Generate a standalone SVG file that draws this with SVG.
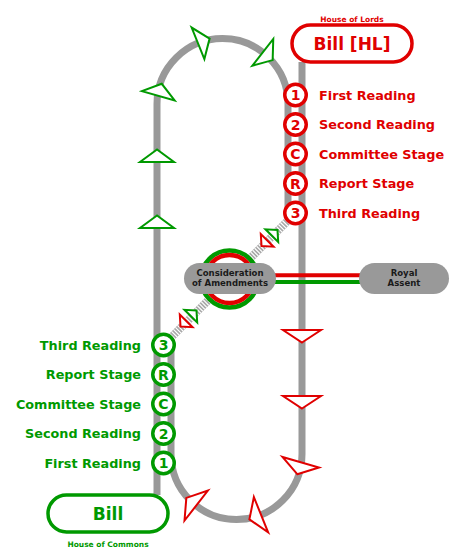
<svg xmlns="http://www.w3.org/2000/svg" width="460" height="558" viewBox="0 0 460 558">
<defs>
<style>
.track{fill:none;stroke:#999;stroke-width:7}
.ladder{stroke:#a8a8a8;stroke-width:8}
.ladder-gap{stroke:#fff;stroke-width:8;stroke-dasharray:1.2 1.6}
.aG{fill:#fff;stroke:#009900;stroke-width:2}
.aR{fill:#fff;stroke:#e00000;stroke-width:2}
.stR circle{fill:#fff;stroke:#e00000;stroke-width:3.5}
.stG circle{fill:#fff;stroke:#009900;stroke-width:3.5}
text{font-family:"DejaVu Sans","Liberation Sans",sans-serif;font-weight:bold}
.num{font-size:14px;text-anchor:middle}
.stR text{fill:#e00000}
.stG text{fill:#009900}
.lbl{font-size:12.8px}
.stG .lbl{text-anchor:end}
.stR .num,.stG .num{text-anchor:middle}
.box{fill:#fff;stroke-width:3.5}
.big{font-size:17px;text-anchor:middle}
.small{font-size:7.5px;text-anchor:middle}
.pill{fill:#999}
.ptxt{font-family:"DejaVu Sans Condensed","DejaVu Sans",sans-serif;font-stretch:condensed;font-size:9.5px;text-anchor:middle;fill:#1a1a1a}
</style>
<polygon id="tri" points="12.5,0 0,-17 0,17"/>
<polygon id="triW" points="12.5,0 0,-19 0,19"/>
<polygon id="tiny" points="8,0 0,-9 0,9"/>
</defs>
<rect width="460" height="558" fill="#fff"/>

<g id="connectors">
  <path class="track" d="M157,495 V104 A65.5,65.5 0 0 1 288,104 V213"/>
  <path class="track" d="M302,62 V454 A65.5,65.5 0 0 1 171,454 V345"/>
  <line class="ladder" x1="295.5" y1="213" x2="163.5" y2="345"/>
  <line class="ladder-gap" x1="295.5" y1="213" x2="163.5" y2="345"/>
  <!-- Commons direction arrows (green) -->
  <use href="#tri" class="aG" transform="translate(157,162) rotate(-90)"/>
  <use href="#tri" class="aG" transform="translate(157,228) rotate(-90)"/>
  <use href="#tri" class="aG" transform="translate(158.3,95.8) rotate(-74)"/>
  <use href="#tri" class="aG" transform="translate(198,43.3) rotate(-22)"/>
  <use href="#tri" class="aG" transform="translate(262.8,52.4) rotate(38)"/>
  <!-- Lords direction arrows (red) -->
  <use href="#triW" class="aR" transform="translate(302,330) rotate(90)"/>
  <use href="#triW" class="aR" transform="translate(302,396) rotate(90)"/>
  <use href="#triW" class="aR" transform="translate(300.7,462.2) rotate(106)"/>
  <use href="#triW" class="aR" transform="translate(261,514.7) rotate(158)"/>
  <use href="#triW" class="aR" transform="translate(196.2,505.6) rotate(218)"/>
  <!-- ping-pong arrows -->
  <use href="#tiny" class="aG" transform="translate(269.5,238) rotate(-45) translate(3.3,0)"/>
  <use href="#tiny" class="aR" transform="translate(269.5,238) rotate(135) translate(3.3,0)"/>
  <use href="#tiny" class="aG" transform="translate(188.5,318.5) rotate(-45) translate(3.3,0)"/>
  <use href="#tiny" class="aR" transform="translate(188.5,318.5) rotate(135) translate(3.3,0)"/>
  <!-- to Royal Assent -->
  <line x1="255" y1="275.3" x2="380" y2="275.3" stroke="#e00000" stroke-width="4"/>
  <line x1="255" y1="282" x2="380" y2="282" stroke="#009900" stroke-width="4"/>
</g>

<g id="consideration">
  <circle cx="229.5" cy="279" r="28.5" fill="#fff" stroke="#009900" stroke-width="4.5"/>
  <circle cx="229.5" cy="279" r="24" fill="none" stroke="#e00000" stroke-width="4.5"/>
  <rect class="pill" x="184" y="263" width="92" height="31" rx="15.5"/>
  <text class="ptxt" x="230" y="276">Consideration</text>
  <text class="ptxt" x="230" y="286">of Amendments</text>
</g>

<g id="royal-assent">
  <rect class="pill" x="359" y="263" width="90" height="31" rx="15.5"/>
  <text class="ptxt" x="404" y="276">Royal</text>
  <text class="ptxt" x="404" y="286">Assent</text>
</g>

<g id="bill-hl">
  <text class="small" x="352" y="21.5" fill="#e00000">House of Lords</text>
  <rect class="box" x="292" y="25" width="120" height="37" rx="18.5" stroke="#e00000"/>
  <text class="big" x="352" y="49.7" fill="#e00000">Bill [HL]</text>
</g>

<g id="bill">
  <rect class="box" x="48" y="495" width="120" height="37" rx="18.5" stroke="#009900"/>
  <text class="big" x="108" y="519.7" fill="#009900">Bill</text>
  <text class="small" x="108" y="547" fill="#009900">House of Commons</text>
</g>

<g id="lords-1" class="stR"><circle cx="295.5" cy="95" r="10.75"/><text class="num" x="295.5" y="100">1</text><text class="lbl" x="319" y="99.5">First Reading</text></g>
<g id="lords-2" class="stR"><circle cx="295.5" cy="124.5" r="10.75"/><text class="num" x="295.5" y="129.5">2</text><text class="lbl" x="319" y="129">Second Reading</text></g>
<g id="lords-c" class="stR"><circle cx="295.5" cy="154" r="10.75"/><text class="num" x="295.5" y="159">C</text><text class="lbl" x="319" y="158.5">Committee Stage</text></g>
<g id="lords-r" class="stR"><circle cx="295.5" cy="183.5" r="10.75"/><text class="num" x="295.5" y="188.5">R</text><text class="lbl" x="319" y="188">Report Stage</text></g>
<g id="lords-3" class="stR"><circle cx="295.5" cy="213" r="10.75"/><text class="num" x="295.5" y="218">3</text><text class="lbl" x="319" y="217.5">Third Reading</text></g>

<g id="commons-3" class="stG"><circle cx="163.5" cy="345" r="10.75"/><text class="num" x="163.5" y="350">3</text><text class="lbl" x="141" y="349.5">Third Reading</text></g>
<g id="commons-r" class="stG"><circle cx="163.5" cy="374.5" r="10.75"/><text class="num" x="163.5" y="379.5">R</text><text class="lbl" x="141" y="379">Report Stage</text></g>
<g id="commons-c" class="stG"><circle cx="163.5" cy="404" r="10.75"/><text class="num" x="163.5" y="409">C</text><text class="lbl" x="141" y="408.5">Committee Stage</text></g>
<g id="commons-2" class="stG"><circle cx="163.5" cy="433.5" r="10.75"/><text class="num" x="163.5" y="438.5">2</text><text class="lbl" x="141" y="438">Second Reading</text></g>
<g id="commons-1" class="stG"><circle cx="163.5" cy="463" r="10.75"/><text class="num" x="163.5" y="468">1</text><text class="lbl" x="141" y="467.5">First Reading</text></g>
</svg>
